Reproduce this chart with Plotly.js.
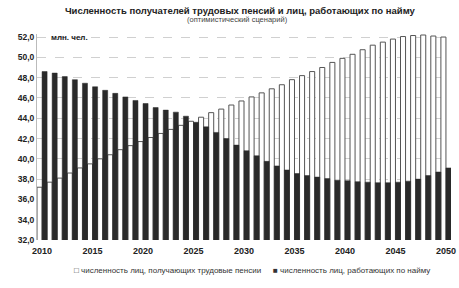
<!DOCTYPE html>
<html>
<head>
<meta charset="utf-8">
<script src="https://cdn.plot.ly/plotly-3.0.1.min.js"></script>
<style>html,body{margin:0;padding:0;background:#fff;}#chart{width:459px;height:288px;}</style>
</head>
<body>
<div id="chart"></div>
<script>
var years = [];
for (var y = 2010; y <= 2050; y++) years.push(y);

var pensioners = [37.2, 37.7, 38.1, 38.6, 39.1, 39.5, 40.0, 40.4, 40.9, 41.3,
  41.7, 42.1, 42.5, 42.9, 43.3, 43.7, 44.1, 44.55, 44.9, 45.3,
  45.7, 46.1, 46.5, 46.9, 47.3, 47.8, 48.2, 48.6, 49.0, 49.5,
  49.9, 50.3, 50.75, 51.2, 51.5, 51.8, 52.05, 52.15, 52.2, 52.1, 52.0];

var workers = [48.6, 48.45, 48.1, 47.8, 47.45, 47.1, 46.75, 46.45, 46.1, 45.75,
  45.45, 45.05, 44.8, 44.6, 44.2, 43.6, 43.15, 42.6, 42.0, 41.35,
  40.8, 40.3, 39.75, 39.3, 38.9, 38.55, 38.35, 38.2, 38.05, 37.9,
  37.85, 37.75, 37.7, 37.65, 37.65, 37.7, 37.8, 38.0, 38.35, 38.7, 39.1];

var seriesNames = ['численность лиц, получающих трудовые пенсии', 'численность лиц, работающих по найму'];
var yTickVals = [32, 34, 36, 38, 40, 42, 44, 46, 48, 50, 52];
var yTickText = ['32,0', '34,0', '36,0', '38,0', '40,0', '42,0', '44,0', '46,0', '48,0', '50,0', '52,0'];
var xTickVals = [2010, 2015, 2020, 2025, 2030, 2035, 2040, 2045, 2050];

var font = 'Liberation Sans, Arial, sans-serif';

var traces = [
  {
    type: 'bar', x: years, y: pensioners, name: seriesNames[0],
    marker: {color: '#ffffff', line: {color: '#555555', width: 1}},
    hoverinfo: 'x+y'
  },
  {
    type: 'bar', x: years, y: workers, name: seriesNames[1],
    marker: {color: '#2a2a2a', line: {color: '#2a2a2a', width: 0.5}},
    hoverinfo: 'x+y'
  }
];

var layout = {
  width: 459, height: 288,
  margin: {l: 37, r: 8, t: 34, b: 48},
  paper_bgcolor: '#ffffff', plot_bgcolor: '#ffffff',
  barmode: 'group', bargap: 0, bargroupgap: 0,
  showlegend: false,
  font: {family: font, color: '#222'},
  title: {
    text: '<b>Численность получателей трудовых пенсий и лиц, работающих по найму</b>',
    font: {family: font, size: 9.5, color: '#222'},
    x: 0.49, xanchor: 'center', xref: 'paper', y: 0.963, yanchor: 'middle', yref: 'container'
  },
  xaxis: {
    range: [2009.5, 2050.5],
    tickvals: xTickVals, ticktext: xTickVals.map(String),
    tickfont: {family: font, size: 9, color: '#222', weight: 'bold'},
    showgrid: false, zeroline: false, showline: false, ticks: '',
    ticklabelstandoff: 4
  },
  yaxis: {
    range: [32, 52.3],
    tickvals: yTickVals, ticktext: yTickText,
    tickfont: {family: font, size: 8.5, color: '#222', weight: 'bold'},
    showgrid: true, gridcolor: '#c4c4c4', griddash: 'dash', gridwidth: 0.8,
    zeroline: false, showline: true, linecolor: '#bbbbbb', linewidth: 1, ticks: ''
  },
  annotations: [
    {text: '(оптимистический сценарий)', xref: 'paper', yref: 'paper', x: 0.485, y: 1.072,
     showarrow: false, font: {family: font, size: 7.5, color: '#444'}, xanchor: 'center', yanchor: 'middle'},
    {text: '<b>млн. чел.</b>', xref: 'paper', yref: 'paper', x: 0.03, y: 0.985,
     showarrow: false, font: {family: font, size: 8, color: '#222'}, xanchor: 'left', yanchor: 'middle'},
    {text: '□ ' + seriesNames[0], xref: 'paper', yref: 'paper', x: 0.085, y: -0.148,
     showarrow: false, font: {family: font, size: 8, color: '#333'}, xanchor: 'left', yanchor: 'middle'},
    {text: '■ ' + seriesNames[1], xref: 'paper', yref: 'paper', x: 0.565, y: -0.148,
     showarrow: false, font: {family: font, size: 8, color: '#333'}, xanchor: 'left', yanchor: 'middle'}
  ]
};

Plotly.newPlot('chart', traces, layout, {displayModeBar: false, staticPlot: true});
</script>
</body>
</html>
